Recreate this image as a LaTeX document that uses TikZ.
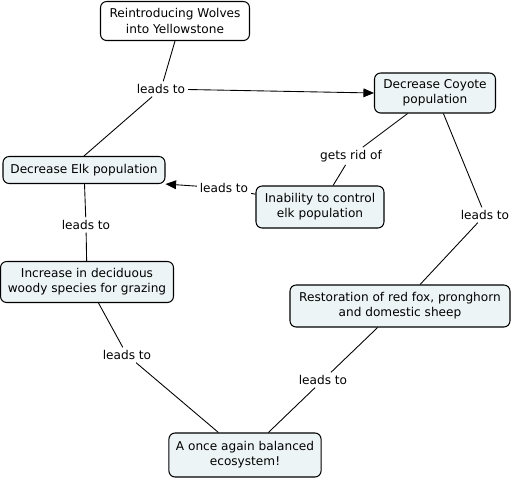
\documentclass[tikz,border=0pt]{standalone}
\usepackage{fontspec}
\setmainfont{DejaVu Sans}
\usepackage{xcolor}
\usetikzlibrary{arrows.meta,positioning}
\definecolor{conceptfill}{RGB}{237,244,246}
\tikzset{
  concept box/.style = {draw, rounded corners=3.5pt, align=center,
                        fill=conceptfill, line width=0.6pt,
                        font=\fontsize{6.9}{8.6}\selectfont,
                        inner xsep=4pt, inner ysep=3pt},
  link label/.style  = {font=\fontsize{6.9}{8.6}\selectfont, inner sep=1.5pt,
                        fill=white},
  link/.style        = {line width=0.5pt},
  arr/.style         = {-{Triangle[length=6pt, width=5pt]}, line width=0.5pt},
}

\begin{document}
\begin{tikzpicture}[x=0.02cm, y=-0.02cm]
  \useasboundingbox (0,0) rectangle (512,478);

  %% --- concepts -------------------------------------------------
  \node[concept box, fill=white, minimum width=2.98cm, minimum height=0.78cm]
    (wolves) at (175,21) {Reintroducing Wolves\\into Yellowstone};
  \node[concept box, minimum width=2.42cm, minimum height=0.8cm]
    (coyote) at (435,93) {Decrease Coyote\\population};
  \node[concept box, minimum width=3.24cm, minimum height=0.54cm]
    (elk) at (84,170) {Decrease Elk population};
  \node[concept box, minimum width=2.56cm, minimum height=0.84cm]
    (inability) at (320,207) {Inability to control\\elk population};
  \node[concept box, minimum width=3.46cm, minimum height=0.82cm]
    (deciduous) at (87,282) {Increase in deciduous\\woody species for grazing};
  \node[concept box, minimum width=4.4cm, minimum height=0.84cm]
    (restore) at (400,306) {Restoration of red fox, pronghorn\\and domestic sheep};
  \node[concept box, minimum width=3.02cm, minimum height=0.88cm]
    (balanced) at (245,455) {A once again balanced\\ecosystem!};

  %% --- linking phrases ------------------------------------------
  \node[link label] (l1) at (161,89)  {leads to};
  \node[link label] (l2) at (351,156) {gets rid of};
  \node[link label] (l3) at (224,188) {leads to};
  \node[link label] (l4) at (485,215) {leads to};
  \node[link label] (l5) at (86,225)  {leads to};
  \node[link label] (l6) at (127,355) {leads to};
  \node[link label] (l7) at (323,380) {leads to};

  %% --- connections ----------------------------------------------
  \draw[link] (wolves.south) -- (l1);
  \draw[link] (l1) -- (elk.north);
  \draw[arr]  (l1) -- (coyote.west);

  \draw[link] (coyote) -- (l2);
  \draw[link] (l2) -- (inability);

  \draw[link] (inability) -- (l3);
  \draw[arr]  (l3) -- (elk.south east);

  \draw[link] (coyote) -- (l4);
  \draw[link] (l4) -- (restore);

  \draw[link] (elk) -- (l5);
  \draw[link] (l5) -- (deciduous);

  \draw[link] (deciduous) -- (l6);
  \draw[link] (l6) -- (balanced);

  \draw[link] (restore) -- (l7);
  \draw[link] (l7) -- (balanced);
\end{tikzpicture}
\end{document}
